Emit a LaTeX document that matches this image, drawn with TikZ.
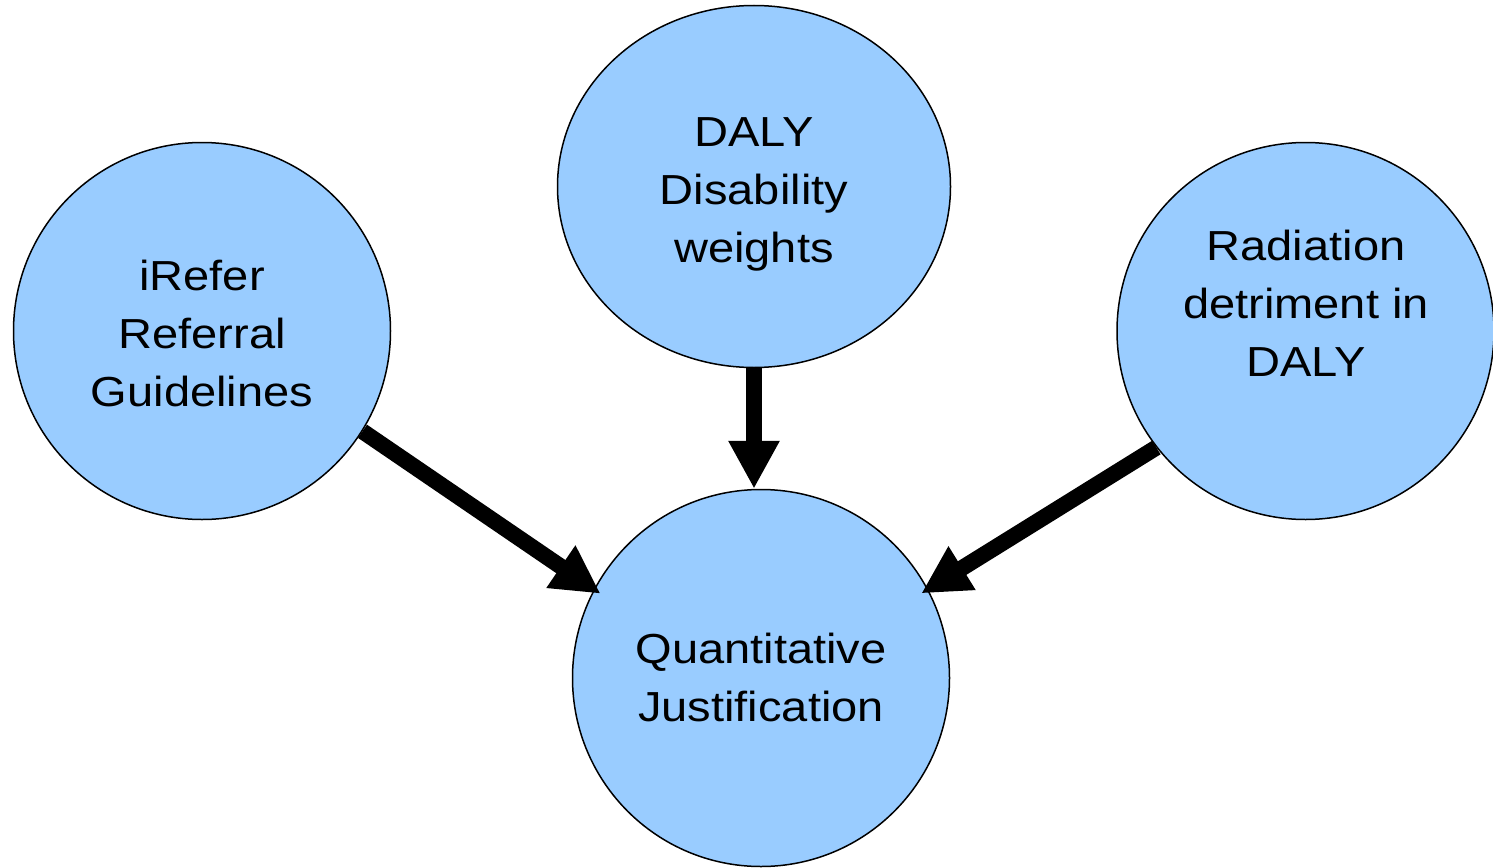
\documentclass[tikz,border=0pt]{standalone}
\usepackage{fontspec}
\setmainfont{Liberation Sans}[FakeStretch=1.12]
\usetikzlibrary{arrows.meta,shapes.geometric}
\definecolor{bubblefill}{HTML}{99CCFF}
\begin{document}
\begin{tikzpicture}[x=1pt,y=-1pt,
    bubble/.style={ellipse,draw=black,line width=1.5pt,fill=bubblefill,
      minimum width=377pt,minimum height=377pt,inner sep=0pt},
    caption/.style={align=center,inner sep=0pt,font=\fontsize{42}{58}\selectfont},
    flow/.style={line width=16pt,-{Triangle[length=48pt,width=48pt]}}]
  \useasboundingbox (0,0) rectangle (1493,867);
  \node[bubble] (irefer) at (202,331) {};
  \node[bubble,minimum width=393pt,minimum height=362pt] (daly) at (754,186.5) {};
  \node[bubble] (radiation) at (1305.5,331) {};
  \node[bubble] (quant) at (761,678) {};
  \node[caption] (ireferlabel) at (202,333.7) {iRefer\\Referral\\Guidelines};
  \node[caption] (dalylabel) at (754,194) {DALY\\Disability\\weights};
  \node[caption] (radiationlabel) at (1306,303.7) {Radiation\\detriment in\\DALY};
  \node[caption] (quantlabel) at (761,677) {Quantitative\\Justification};
  \draw[flow,shorten >=-8pt] (irefer.-32) -- (quant.152);
  \draw[flow] (daly.south) -- (daly.south |- quant.north);
  \draw[flow,shorten >=-8pt] (radiation.218) -- (quant.28);
\end{tikzpicture}
\end{document}
